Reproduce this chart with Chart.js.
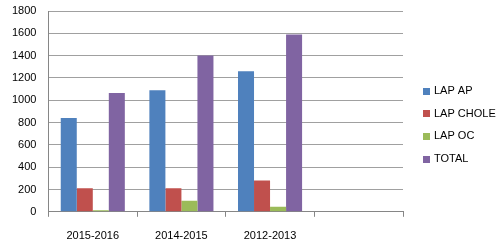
<!DOCTYPE html>
<html>
<head>
<meta charset="utf-8">
<script src="https://cdn.jsdelivr.net/npm/chart.js@4"></script>
<style>
  html, body { margin: 0; padding: 0; background: #fff; }
  #wrap { width: 500px; height: 250px; }
</style>
</head>
<body>
<div id="wrap"><canvas id="chart" width="500" height="250"></canvas></div>
<script>
// Data
const periods = ['2015-2016', '2014-2015', '2012-2013', ''];
const lapAp = [840, 1090, 1260, null];
const lapChole = [210, 210, 280, null];
const lapOc = [15, 100, 45, null];
const total = [1065, 1400, 1590, null];
const yTicks = [0, 200, 400, 600, 800, 1000, 1200, 1400, 1600, 1800];

const fontFamily = '"Liberation Sans", Arial, sans-serif';

// Legend drawn at the right, Excel style
const sideLegend = {
    id: 'sideLegend',
    afterDraw(chart) {
        const ctx = chart.ctx;
        ctx.save();
        ctx.font = '11px ' + fontFamily;
        ctx.textBaseline = 'middle';
        ctx.textAlign = 'left';
        chart.data.datasets.forEach((ds, i) => {
            const y = 91 + i * 22.7;
            ctx.fillStyle = ds.backgroundColor;
            ctx.fillRect(423, Math.round(y - 3.5), 7, 7);
            ctx.fillStyle = '#000';
            ctx.fillText(ds.label, 434, y);
        });
        ctx.restore();
    }
};

new Chart(document.getElementById('chart').getContext('2d'), {
    type: 'bar',
    data: {
        labels: periods,
        datasets: [
            { label: 'LAP AP', data: lapAp, backgroundColor: '#4F81BD' },
            { label: 'LAP CHOLE', data: lapChole, backgroundColor: '#C0504D' },
            { label: 'LAP OC', data: lapOc, backgroundColor: '#9BBB59' },
            { label: 'TOTAL', data: total, backgroundColor: '#8064A2' }
        ]
    },
    options: {
        responsive: false,
        animation: false,
        layout: { padding: { left: 10, right: 97, top: 11, bottom: -6 } },
        datasets: { bar: { categoryPercentage: 0.723, barPercentage: 1.0 } },
        plugins: {
            legend: { display: false },
            tooltip: { enabled: false }
        },
        scales: {
            x: {
                offset: true,
                grid: {
                    offset: true,
                    drawOnChartArea: false,
                    drawTicks: true,
                    tickLength: 5,
                    color: '#868686'
                },
                border: { color: '#868686' },
                ticks: {
                    color: '#000',
                    padding: 13,
                    font: { family: fontFamily, size: 11 }
                }
            },
            y: {
                min: 0,
                max: 1800,
                afterBuildTicks: (axis) => { axis.ticks = yTicks.map(v => ({ value: v })); },
                grid: { color: '#A0A0A0', drawTicks: true, tickLength: 10, tickColor: 'rgba(0,0,0,0)' },
                border: { color: '#868686' },
                ticks: {
                    color: '#000',
                    padding: 2,
                    font: { family: fontFamily, size: 11 },
                    callback: (v) => String(v)
                }
            }
        }
    },
    plugins: [sideLegend]
});
</script>
</body>
</html>
